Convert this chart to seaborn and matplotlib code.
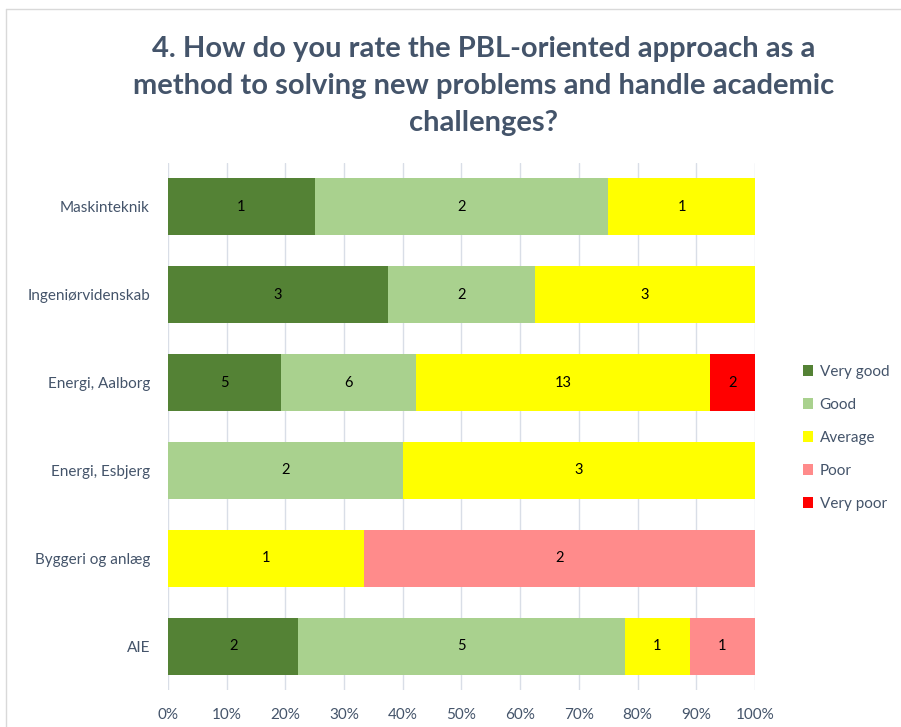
import numpy as np
import pandas as pd
import matplotlib
matplotlib.use("Agg")
import matplotlib.pyplot as plt
from matplotlib.lines import Line2D
from matplotlib.patches import Patch
import seaborn as sns

categories = ["Maskinteknik", "Ingeniørvidenskab", "Energi, Aalborg",
              "Energi, Esbjerg", "Byggeri og anlæg", "AIE"]
series = ["Very good", "Good", "Average", "Poor", "Very poor"]
very_good = [1, 3, 5, 0, 0, 2]
good = [2, 2, 6, 2, 0, 5]
average = [1, 3, 13, 3, 1, 1]
poor = [0, 0, 0, 0, 2, 1]
very_poor = [0, 0, 2, 0, 0, 0]
colors = ["#548235", "#A9D18E", "#FFFF00", "#FF8B8B", "#FF0000"]
xticks = [0, 0.1, 0.2, 0.3, 0.4, 0.5, 0.6, 0.7, 0.8, 0.9, 1.0]
title = "4. How do you rate the PBL-oriented approach as a\nmethod to solving new problems and handle academic\nchallenges?"

sns.set_theme(style="white")
plt.rcParams['font.family'] = ['Lato', 'DejaVu Sans']

counts = np.array([very_good, good, average, poor, very_poor], dtype=float)
totals = counts.sum(axis=0)
shares = counts / totals
cum = np.cumsum(shares, axis=0)

fig = plt.figure(figsize=(9.01, 7.27), dpi=100)
ax = fig.add_axes([168/901, 37/727, 587/901, 527/727])

text_col = "#44546A"
# draw cumulative bars from the last series to the first
for i in range(len(series) - 1, -1, -1):
    df = pd.DataFrame({"cat": categories, "val": cum[i]})
    sns.barplot(data=df, x="val", y="cat", color=colors[i], orient="h",
                width=0.65, linewidth=0, saturation=1, ax=ax, zorder=2)

# segment labels
for i in range(len(series)):
    left = cum[i] - shares[i]
    for j, cat in enumerate(categories):
        if counts[i, j] > 0:
            ax.text(left[j] + shares[i, j] / 2, j, f"{int(counts[i, j])}",
                    ha="center", va="center", fontsize=10.5, color="#000000", zorder=3)

ax.set_xlim(0, 1)
ax.set_ylim(5.5, -0.5)
ax.set_xticks(xticks)
ax.set_xticklabels([f"{int(round(t*100))}%" for t in xticks])
ax.xaxis.grid(True, color="#D9DEE7", linewidth=1, zorder=0)
ax.set_axisbelow(True)
ax.set_xlabel("")
ax.set_ylabel("")
for s in ax.spines.values():
    s.set_visible(False)
ax.tick_params(axis="both", length=0, labelsize=11, labelcolor=text_col)
ax.tick_params(axis="x", pad=13)
ax.tick_params(axis="y", pad=13)

handles = [Patch(facecolor=c, edgecolor="none") for c in colors]
leg = fig.legend(handles, series, loc="center left", bbox_to_anchor=(789/901, 1 - 438/727),
                 frameon=False, fontsize=11, handlelength=0.7, handleheight=0.7,
                 handletextpad=0.4, labelspacing=1.24, labelcolor=text_col)

fig.text(484/901, 1 - 86/727, title, ha="center", va="center", fontsize=21,
         fontweight="bold", color=text_col, linespacing=1.52)

# chart border (top and left visible)
fig.add_artist(Line2D([6/901, 1], [1 - 9/727, 1 - 9/727], color="#D9D9D9", linewidth=1, transform=fig.transFigure))
fig.add_artist(Line2D([6/901, 6/901], [0, 1 - 9/727], color="#D9D9D9", linewidth=1, transform=fig.transFigure))

fig.savefig("out.png", dpi=100, facecolor="white")
